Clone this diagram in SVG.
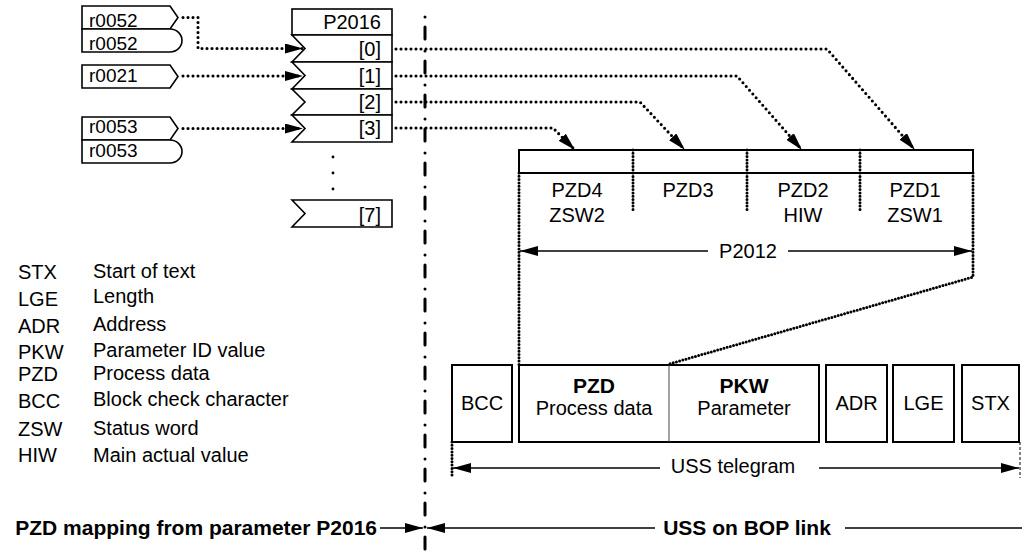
<svg xmlns="http://www.w3.org/2000/svg" width="1022" height="557" viewBox="0 0 1022 557">
<defs>
<style>
text{font-family:"Liberation Sans",Arial,sans-serif;fill:#000;font-size:20px}
.s{font-size:19px}
.m{text-anchor:middle}
.e{text-anchor:end}
.b{font-weight:bold;font-size:21px}
.box{fill:#fff;stroke:#000;stroke-width:1.6}
.box2{fill:#fff;stroke:#000;stroke-width:2}
.dot{fill:none;stroke:#000;stroke-width:3.1;stroke-linecap:round;stroke-dasharray:0 5}
.dense{fill:none;stroke:#000;stroke-width:3;stroke-linecap:round;stroke-dasharray:0 3.3}
.ln{fill:none;stroke:#000;stroke-width:1.3}
.dd{fill:none;stroke:#000;stroke-width:3;stroke-linecap:round;stroke-dasharray:0 10 12 12}
</style>
<marker id="ah" viewBox="0 0 18 10" refX="18" refY="5" markerWidth="18" markerHeight="10" markerUnits="userSpaceOnUse" orient="auto"><path d="M0,0 L18,5 L0,10 Z" fill="#000"/></marker>
</defs>
<rect width="1022" height="557" fill="#fff"/>

<g id="separator"><path class="dd" d="M425,17 V557"/></g>

<g id="in-r0052-a"><path class="box" d="M82,6 H170 L178,17.5 L170,29 H82 Z"/><text class="s" x="89" y="27">r0052</text></g>
<g id="in-r0052-b"><path class="box" d="M82,29 H170 A12,11.5 0 0 1 170,52 H82 Z"/><text class="s" x="89" y="50">r0052</text></g>
<g id="in-r0021"><path class="box" d="M82,65 H170 L178,76.5 L170,88 H82 Z"/><text class="s" x="89" y="82">r0021</text></g>
<g id="in-r0053-a"><path class="box" d="M82,117 H170 L178,128.5 L170,140 H82 Z"/><text class="s" x="89" y="133">r0053</text></g>
<g id="in-r0053-b"><path class="box" d="M82,140 H170 A12,11.5 0 0 1 170,163 H82 Z"/><text class="s" x="89" y="157">r0053</text></g>

<g id="p2016">
<rect class="box" x="292" y="9" width="100" height="26"/><text class="e" x="381" y="29">P2016</text>
<polygon class="box" points="292,35 392,35 392,62 292,62 305,48.5"/><text class="e" x="381" y="56">[0]</text>
<polygon class="box" points="292,62 392,62 392,89 292,89 305,75.5"/><text class="e" x="381" y="83">[1]</text>
<polygon class="box" points="292,89 392,89 392,115 292,115 305,102"/><text class="e" x="381" y="109">[2]</text>
<polygon class="box" points="292,115 392,115 392,142 292,142 305,128.5"/><text class="e" x="381" y="135">[3]</text>
<circle cx="333" cy="157" r="1.4"/><circle cx="333" cy="173" r="1.4"/><circle cx="333" cy="189" r="1.4"/>
<polygon class="box" points="292,200 392,200 392,227 292,227 305,213.5"/><text class="e" x="381" y="222">[7]</text>
</g>

<g id="pzd-frame">
<rect class="box2" x="519" y="150" width="454" height="23"/>
<path class="dense" d="M633,150 V212 M747,150 V212 M860,150 V212"/>
<path class="dense" d="M519,173 V365"/>
<path class="dense" d="M973,173 V277 L669,364"/>
<text class="m" x="577" y="197">PZD4</text><text class="m" x="577" y="222">ZSW2</text>
<text class="m" x="688" y="197">PZD3</text>
<text class="m" x="803" y="197">PZD2</text><text class="m" x="803" y="222">HIW</text>
<text class="m" x="915" y="197">PZD1</text><text class="m" x="915" y="222">ZSW1</text>
<path class="ln" d="M708,251 H520" marker-end="url(#ah)"/>
<path class="ln" d="M788,251 H972" marker-end="url(#ah)"/>
<text class="m" x="748" y="258">P2012</text>
</g>

<g id="telegram">
<rect class="box2" x="452" y="365" width="60" height="77"/><text class="m" x="482" y="410">BCC</text>
<rect class="box2" x="519" y="365" width="300" height="77"/>
<path d="M669,365 V442" stroke="#444" stroke-width="1"/>
<text class="m b" x="594" y="393">PZD</text><text class="m" x="594" y="415">Process data</text>
<text class="m b" x="744" y="393">PKW</text><text class="m" x="744" y="415">Parameter</text>
<rect class="box2" x="826" y="365" width="61" height="77"/><text class="m" x="856.5" y="410">ADR</text>
<rect class="box2" x="893" y="365" width="61" height="77"/><text class="m" x="923.5" y="410">LGE</text>
<rect class="box2" x="962" y="365" width="57" height="77"/><text class="m" x="990.5" y="410">STX</text>
<path class="dense" d="M452,442 V478"/>
<path d="M1020,442 V478" stroke="#000" stroke-width="1" stroke-dasharray="3 2"/>
<path class="ln" d="M660,468 H453" marker-end="url(#ah)"/>
<path class="ln" d="M819,468 H1019" marker-end="url(#ah)"/>
<text class="m" x="733" y="473">USS telegram</text>
</g>

<g id="connectors">
<path class="dot" d="M183,17.5 H198 V48.5 H303" marker-end="url(#ah)"/>
<path class="dot" d="M183,76 H303" marker-end="url(#ah)"/>
<path class="dot" d="M183,128.5 H303" marker-end="url(#ah)"/>
<path class="dot" d="M396,49 H827 L915,150" marker-end="url(#ah)"/>
<path class="dot" d="M396,76 H737 L802,150" marker-end="url(#ah)"/>
<path class="dot" d="M396,102 H640 L685,150" marker-end="url(#ah)"/>
<path class="dot" d="M396,128 H553 L575,150" marker-end="url(#ah)"/>
</g>

<g id="legend">
<text x="18" y="279">STX</text><text x="93" y="278">Start of text</text>
<text x="18" y="306">LGE</text><text x="93" y="303">Length</text>
<text x="18" y="333">ADR</text><text x="93" y="331">Address</text>
<text x="18" y="359">PKW</text><text x="93" y="357">Parameter ID value</text>
<text x="18" y="381">PZD</text><text x="93" y="380">Process data</text>
<text x="18" y="408">BCC</text><text x="93" y="406">Block check character</text>
<text x="18" y="436">ZSW</text><text x="93" y="435">Status word</text>
<text x="18" y="462">HIW</text><text x="93" y="462">Main actual value</text>
</g>

<g id="footer">
<text class="b e" x="377" y="535">PZD mapping from parameter P2016</text>
<path class="ln" d="M380,528 H423" marker-end="url(#ah)"/>
<path class="ln" d="M655,528 H427" marker-end="url(#ah)"/>
<text class="b m" x="747" y="535">USS on BOP link</text>
<path class="ln" d="M845,528 H1022"/>
</g>
</svg>
